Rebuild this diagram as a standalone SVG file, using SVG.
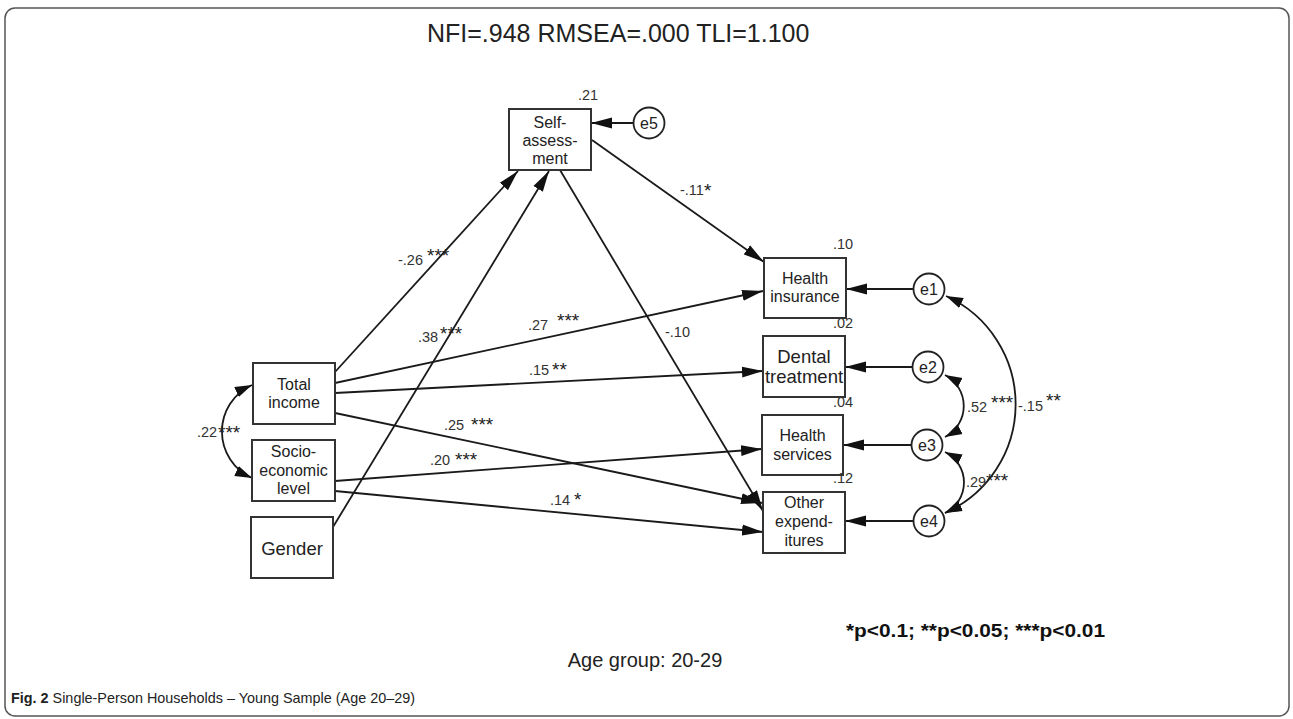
<svg xmlns="http://www.w3.org/2000/svg" width="1293" height="719" viewBox="0 0 1293 719">
<defs>
<style>
.box{fill:#fff;stroke:#333;stroke-width:2}
.err{fill:#fff;stroke:#222;stroke-width:1.8}
.ln{fill:none;stroke:#1a1a1a;stroke-width:1.8}
.n{font-family:"Liberation Sans",Arial,sans-serif;font-size:16px;fill:#222;text-anchor:middle}
.nl{font-size:18.5px}
.v{font-family:"Liberation Sans",Arial,sans-serif;font-size:14.5px;fill:#333}
.s{font-family:"Liberation Sans",Arial,sans-serif;font-size:19px;fill:#222}
</style>
<marker id="ah" markerUnits="userSpaceOnUse" markerWidth="22" markerHeight="12" refX="21" refY="6" orient="auto"><path d="M0,0.5 L21,6 L0,11.5 z" fill="#111"/></marker>
<marker id="ch" markerUnits="userSpaceOnUse" markerWidth="18" markerHeight="13" refX="17" refY="6.5" orient="auto-start-reverse"><path d="M0,1 L17,6.5 L0,12 z" fill="#111"/></marker>
</defs>
<rect width="1293" height="719" fill="#fff"/>
<rect x="5" y="8" width="1284" height="708" rx="10" fill="none" stroke="#555" stroke-width="1.5"/>
<text x="427" y="42" font-family="Liberation Sans, Arial, sans-serif" font-size="25" fill="#222">NFI=.948 RMSEA=.000 TLI=1.100</text>

<g id="connectors">
<path class="ln" d="M335,372 L518,171" marker-end="url(#ah)"/>
<path class="ln" d="M333,527 L549,171" marker-end="url(#ah)"/>
<path class="ln" d="M560,170 L763,511" marker-end="url(#ah)"/>
<path class="ln" d="M592,140 L764,262" marker-end="url(#ah)"/>
<path class="ln" d="M335,383 L763,291" marker-end="url(#ah)"/>
<path class="ln" d="M335,393 L763,371" marker-end="url(#ah)"/>
<path class="ln" d="M335,413 L762,503" marker-end="url(#ah)"/>
<path class="ln" d="M335,481 L762,449" marker-end="url(#ah)"/>
<path class="ln" d="M335,491 L763,532" marker-end="url(#ah)"/>
<path class="ln" d="M914,289 L846,289" marker-end="url(#ah)"/>
<path class="ln" d="M913,367 L845,367" marker-end="url(#ah)"/>
<path class="ln" d="M912,445 L843,445" marker-end="url(#ah)"/>
<path class="ln" d="M914,521 L845,521" marker-end="url(#ah)"/>
<path class="ln" d="M633,123 L591,123" marker-end="url(#ah)"/>
<path class="ln" d="M252,385 A51,51 0 0,0 252,478" marker-start="url(#ch)" marker-end="url(#ch)"/>
<path class="ln" d="M946,296 A119,119 0 0,1 945,513" marker-start="url(#ch)" marker-end="url(#ch)"/>
<path class="ln" d="M945,375 A35,35 0 0,1 945,437" marker-start="url(#ch)" marker-end="url(#ch)"/>
<path class="ln" d="M945,452 A34,34 0 0,1 945,513" marker-start="url(#ch)" marker-end="url(#ch)"/>
</g>

<g id="labels">
<text class="v" x="398" y="265">-.26</text><text class="s" x="427" y="262">***</text>
<text class="v" x="418" y="342">.38</text><text class="s" x="440" y="340">***</text>
<text class="v" x="528" y="330">.27</text><text class="s" x="557" y="327">***</text>
<text class="v" x="529" y="375">.15</text><text class="s" x="552" y="376">**</text>
<text class="v" x="444" y="430">.25</text><text class="s" x="471" y="431">***</text>
<text class="v" x="430" y="465">.20</text><text class="s" x="455" y="466">***</text>
<text class="v" x="550" y="505">.14</text><text class="s" x="574" y="506">*</text>
<text class="v" x="680" y="195">-.11</text><text class="s" x="704" y="197">*</text>
<text class="v" x="665" y="337">-.10</text>
<text class="v" x="197" y="437">.22</text><text class="s" x="218" y="439">***</text>
<text class="v" x="967" y="412">.52</text><text class="s" x="991" y="409">***</text>
<text class="v" x="1018" y="411">-.15</text><text class="s" x="1046" y="407">**</text>
<text class="v" x="966" y="487">.29</text><text class="s" x="986" y="487">***</text>
</g>

<g id="self-assessment">
<rect class="box" x="509" y="109" width="82" height="61"/>
<text class="n" x="550" y="128">Self-</text>
<text class="n" x="550" y="146">assess-</text>
<text class="n" x="550" y="164">ment</text>
<text class="v" x="578" y="100">.21</text>
</g>
<g id="e5">
<circle class="err" cx="649" cy="123" r="15.5"/>
<text class="n" x="649" y="129">e5</text>
</g>
<g id="total-income">
<rect class="box" x="253" y="363" width="82" height="61"/>
<text class="n" x="294" y="390">Total</text>
<text class="n" x="294" y="408">income</text>
</g>
<g id="socio-economic-level">
<rect class="box" x="252" y="440" width="83" height="61"/>
<text class="n" x="293.5" y="457">Socio-</text>
<text class="n" x="293.5" y="476">economic</text>
<text class="n" x="293.5" y="494">level</text>
</g>
<g id="gender">
<rect class="box" x="251" y="517" width="82" height="61"/>
<text class="n nl" x="292" y="555">Gender</text>
</g>
<g id="health-insurance">
<rect class="box" x="764" y="258" width="82" height="60"/>
<text class="n" x="805" y="284">Health</text>
<text class="n" x="805" y="302">insurance</text>
<text class="v" x="833" y="249">.10</text>
</g>
<g id="dental-treatment">
<rect class="box" x="763" y="336" width="82" height="61"/>
<text class="n nl" x="804" y="363">Dental</text>
<text class="n nl" x="804" y="383">treatment</text>
<text class="v" x="833" y="328">.02</text>
</g>
<g id="health-services">
<rect class="box" x="762" y="415" width="81" height="60"/>
<text class="n" x="802.5" y="441">Health</text>
<text class="n" x="802.5" y="460">services</text>
<text class="v" x="833" y="407">.04</text>
</g>
<g id="other-expenditures">
<rect class="box" x="763" y="492" width="82" height="61"/>
<text class="n" x="804" y="508">Other</text>
<text class="n" x="804" y="527">expend-</text>
<text class="n" x="804" y="546">itures</text>
<text class="v" x="833" y="483">.12</text>
</g>
<g id="e1"><circle class="err" cx="929" cy="289" r="15.5"/><text class="n" x="929" y="295">e1</text></g>
<g id="e2"><circle class="err" cx="928" cy="367" r="15.5"/><text class="n" x="928" y="373">e2</text></g>
<g id="e3"><circle class="err" cx="927" cy="445" r="15.5"/><text class="n" x="927" y="451">e3</text></g>
<g id="e4"><circle class="err" cx="929" cy="521" r="15.5"/><text class="n" x="929" y="527">e4</text></g>

<text x="846" y="637" font-family="Liberation Sans, Arial, sans-serif" font-size="18" font-weight="bold" fill="#111" textLength="259" lengthAdjust="spacingAndGlyphs">*p&lt;0.1; **p&lt;0.05; ***p&lt;0.01</text>
<text x="645" y="667" font-family="Liberation Sans, Arial, sans-serif" font-size="20" fill="#222" text-anchor="middle">Age group: 20-29</text>
<text x="11" y="703" font-family="Liberation Sans, Arial, sans-serif" font-size="15" fill="#222" textLength="404" lengthAdjust="spacingAndGlyphs"><tspan font-weight="bold">Fig. 2</tspan> Single-Person Households – Young Sample (Age 20–29)</text>
</svg>
